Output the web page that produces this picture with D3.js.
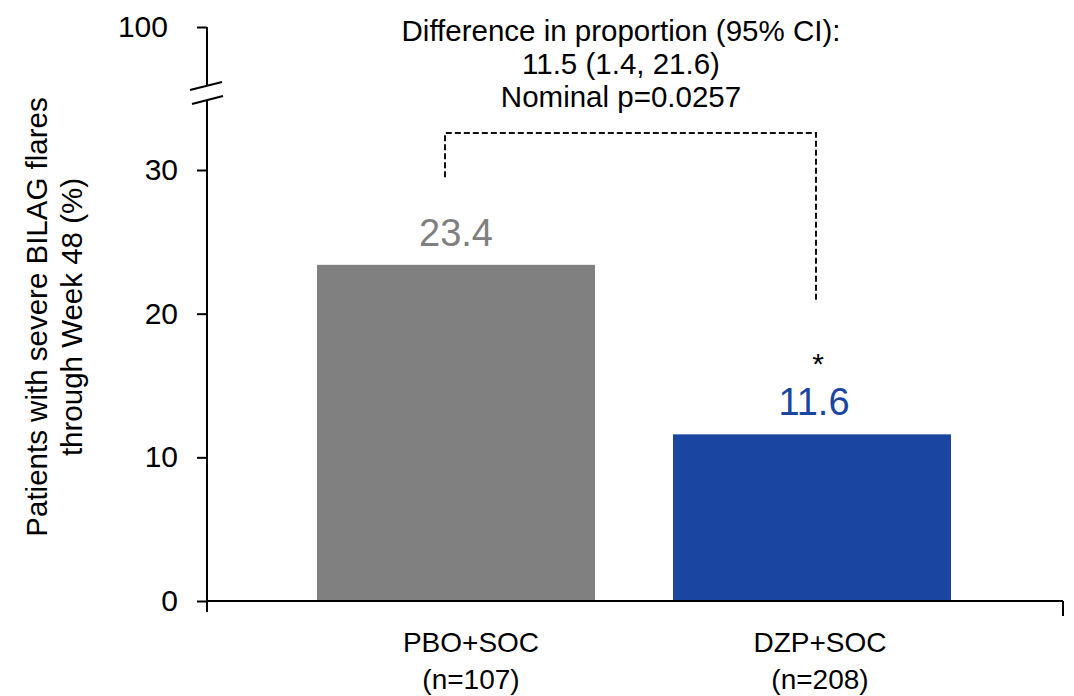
<!DOCTYPE html>
<html>
<head>
<meta charset="utf-8">
<script src="https://cdn.jsdelivr.net/npm/d3@7"></script>
<style>
  html, body { margin: 0; padding: 0; background: #fff; }
  svg { display: block; font-family: "Liberation Sans", Arial, sans-serif; }
</style>
</head>
<body>
<svg id="chart" width="1074" height="696"></svg>
<script>
// ---- data ----
const categories = ["PBO+SOC", "DZP+SOC"];
const sampleSizes = ["(n=107)", "(n=208)"];
const values = [23.4, 11.6];
const valueLabels = ["23.4", "11.6"];
const barColors = ["#808080", "#1a45a0"];
const labelColors = ["#808080", "#1a45a0"];
const yTicksLower = [0, 10, 20, 30];
const yTicksUpper = [100];
const annotationLines = ["Difference in proportion (95% CI):", "11.5 (1.4, 21.6)", "Nominal p=0.0257"];
const yTitleLines = ["Patients with severe BILAG flares", "through Week 48 (%)"];

// ---- layout ----
const svg = d3.select("#chart");
const axisX = 207, axisRight = 1063, baseY = 601;
const fs = 28;

const y = d3.scaleLinear().domain([0, 30]).range([baseY, 170]);
const yUpper = d3.scaleLinear().domain([100, 105]).range([27, 0]);

const x = d3.scaleBand().domain(categories).range([317, 951]).paddingInner(0.219).paddingOuter(0);
const xLabel = d3.scalePoint().domain(categories).range([471, 820]);

// bars
svg.selectAll("rect.bar").data(values).join("rect")
  .attr("class", "bar")
  .attr("x", (d, i) => x(categories[i]))
  .attr("width", x.bandwidth())
  .attr("y", d => y(d))
  .attr("height", d => baseY - y(d))
  .attr("fill", (d, i) => barColors[i]);

// value labels
svg.selectAll("text.val").data(values).join("text")
  .attr("class", "val")
  .attr("x", (d, i) => x(categories[i]) + x.bandwidth() / 2 + i * 2)
  .attr("y", d => y(d) - 19)
  .attr("text-anchor", "middle")
  .attr("font-size", 38)
  .attr("fill", (d, i) => labelColors[i])
  .text((d, i) => valueLabels[i]);

// y axis lower segment
const lowerAxis = d3.axisLeft(y).tickValues(yTicksLower).tickSize(10).tickPadding(19).tickFormat(d3.format("d"));
const gL = svg.append("g").attr("transform", `translate(${axisX},0)`).call(lowerAxis);
gL.select(".domain").remove();
gL.append("line").attr("x1", 0).attr("x2", 0).attr("y1", 100).attr("y2", baseY + 11)
  .attr("stroke", "#000").attr("stroke-width", 2);
// upper segment
const upperAxis = d3.axisLeft(yUpper).tickValues(yTicksUpper).tickSize(10).tickPadding(29).tickFormat(d3.format("d"));
const gU = svg.append("g").attr("transform", `translate(${axisX},0)`).call(upperAxis);
gU.select(".domain").remove();
gU.append("line").attr("x1", 0).attr("x2", 0).attr("y1", yUpper(100)).attr("y2", 86)
  .attr("stroke", "#000").attr("stroke-width", 2);
[gL, gU].forEach(g => {
  g.selectAll(".tick line").attr("stroke", "#000").attr("stroke-width", 2);
  g.selectAll(".tick text").attr("font-size", 30).attr("fill", "#000")
    .attr("font-family", "Liberation Sans, Arial, sans-serif");
});
// break marks
svg.append("line").attr("x1", 190).attr("y1", 90).attr("x2", 222).attr("y2", 82)
  .attr("stroke", "#000").attr("stroke-width", 2);
svg.append("line").attr("x1", 192).attr("y1", 104).attr("x2", 223).attr("y2", 96)
  .attr("stroke", "#000").attr("stroke-width", 2);

// x axis
svg.append("line").attr("x1", axisX).attr("x2", axisRight).attr("y1", baseY).attr("y2", baseY)
  .attr("stroke", "#000").attr("stroke-width", 2);
svg.append("line").attr("x1", axisRight).attr("x2", axisRight).attr("y1", baseY).attr("y2", baseY + 15)
  .attr("stroke", "#000").attr("stroke-width", 2);

// x category labels
const xl = svg.selectAll("text.xcat").data(categories).join("text")
  .attr("class", "xcat")
  .attr("text-anchor", "middle")
  .attr("font-size", fs)
  .attr("fill", "#000");
xl.append("tspan").attr("x", d => xLabel(d)).attr("y", 652).text(d => d);
xl.append("tspan").attr("x", d => xLabel(d)).attr("y", 689).text((d, i) => sampleSizes[i]);

// y title
const yt = svg.append("text")
  .attr("transform", "translate(47,317) rotate(-90)")
  .attr("text-anchor", "middle")
  .attr("font-size", 29.5)
  .attr("fill", "#000");
yTitleLines.forEach((t, i) => yt.append("tspan").attr("x", 0).attr("y", i * 35).text(t));

// annotation
const ann = svg.append("text").attr("text-anchor", "middle").attr("font-size", 29.5).attr("fill", "#000");
annotationLines.forEach((t, i) => ann.append("tspan").attr("x", 621).attr("y", 41 + i * 33).text(t));

// bracket
const lx = x(categories[0]) + x.bandwidth() / 2 - 11;
const rx = x(categories[1]) + x.bandwidth() / 2 + 4;
svg.append("path")
  .attr("d", `M${lx},${y(29.5)} L${lx},133 L${rx},133 L${rx},${y(20.9)}`)
  .attr("fill", "none").attr("stroke", "#111").attr("stroke-width", 2)
  .attr("stroke-dasharray", "6,3");

// asterisk
svg.append("text").attr("x", rx + 2).attr("y", 374).attr("text-anchor", "middle")
  .attr("font-size", 30).attr("fill", "#000").text("*");
</script>
</body>
</html>
